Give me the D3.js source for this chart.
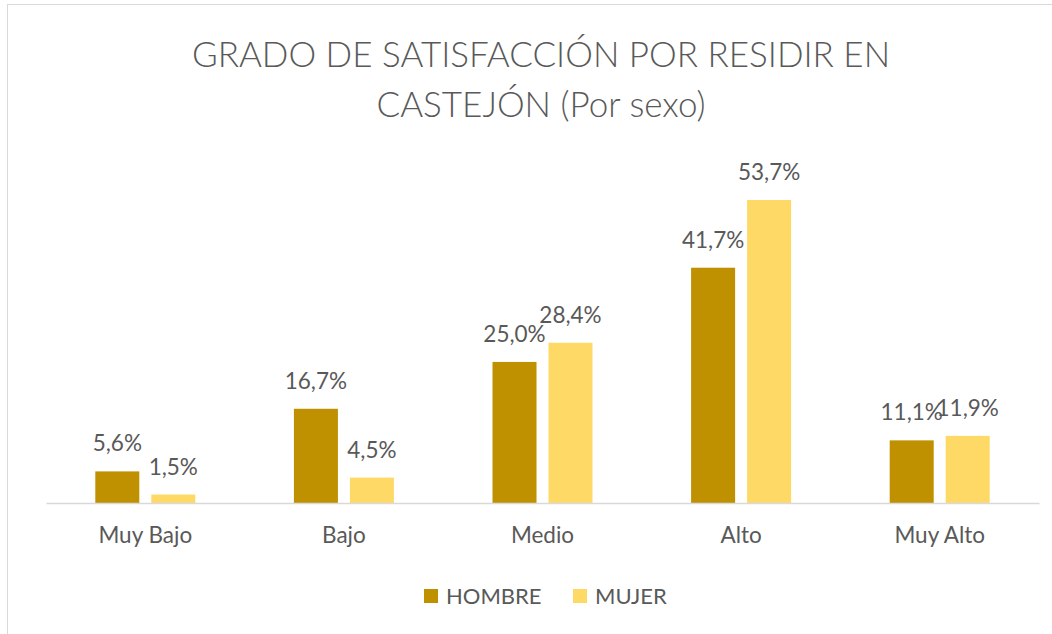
<!DOCTYPE html>
<html>
<head>
<meta charset="utf-8">
<script src="https://cdn.jsdelivr.net/npm/d3@7"></script>
<style>
  body { margin: 0; background: #fff; }
  svg text { font-family: Lato, "Open Sans", sans-serif; fill: #595959; }
</style>
</head>
<body>
<div id="chart"></div>
<script>
const width = 1052;
const height = 634;

const categories = ["Muy Bajo", "Bajo", "Medio", "Alto", "Muy Alto"];
const series = ["HOMBRE", "MUJER"];
const hombre = [5.6, 16.7, 25.0, 41.7, 11.1];
const mujer = [1.5, 4.5, 28.4, 53.7, 11.9];
const titleLines = ["GRADO DE SATISFACCIÓN POR RESIDIR EN", "CASTEJÓN (Por sexo)"];

const colors = { "HOMBRE": "#BF9000", "MUJER": "#FFD966" };

const data = categories.map((c, i) => ({ cat: c, HOMBRE: hombre[i], MUJER: mujer[i] }));

const svg = d3.select("#chart")
  .append("svg")
  .attr("width", width)
  .attr("height", height);

// chart frame
svg.append("rect")
  .attr("x", 7.5).attr("y", 4.5)
  .attr("width", width + 10).attr("height", height + 10)
  .attr("fill", "none")
  .attr("stroke", "#d9d9d9");

// title
svg.append("g")
  .selectAll("text")
  .data(titleLines)
  .enter()
  .append("text")
  .attr("x", 541)
  .attr("y", (d, i) => 67 + i * 50)
  .attr("text-anchor", "middle")
  .style("font-size", "35px")
  .style("font-weight", 300)
  .text(d => d);

const x0 = d3.scaleBand()
  .domain(categories)
  .range([46, 1039]);

const x1 = d3.scaleBand()
  .domain(series)
  .range([x0.bandwidth() / 2 - 50, x0.bandwidth() / 2 + 50])
  .paddingInner(0.214);

const yScale = d3.scaleLinear()
  .domain([0, 53.7])
  .range([503, 200]);

const groups = svg.append("g")
  .selectAll("g")
  .data(data)
  .enter()
  .append("g")
  .attr("transform", d => "translate(" + x0(d.cat) + ",0)");

groups.selectAll("rect")
  .data(d => series.map(s => ({ key: s, value: d[s] })))
  .enter()
  .append("rect")
  .attr("x", d => x1(d.key))
  .attr("y", d => yScale(d.value))
  .attr("width", x1.bandwidth())
  .attr("height", d => yScale(0) - yScale(d.value))
  .style("fill", d => colors[d.key]);

groups.selectAll("text.val")
  .data(d => series.map(s => ({ key: s, value: d[s] })))
  .enter()
  .append("text")
  .attr("class", "val")
  .attr("x", d => x1(d.key) + x1.bandwidth() / 2)
  .attr("y", d => yScale(d.value) - 20)
  .attr("text-anchor", "middle")
  .style("font-size", "22.5px")
  .text(d => d.value.toFixed(1).replace(".", ",") + "%");

// x axis
const xAxis = d3.axisBottom(x0).tickSize(0).tickPadding(24);
const gx = svg.append("g")
  .attr("transform", "translate(0,503)")
  .call(xAxis);
gx.select(".domain").attr("stroke", "#d9d9d9").attr("stroke-width", 1.5);
gx.selectAll("text")
  .style("font-size", "22.5px")
  .style("font-family", "Lato, 'Open Sans', sans-serif")
  .attr("fill", "#595959");

// legend
const legendX = [424, 573];
const legend = svg.append("g")
  .selectAll("g")
  .data(series)
  .enter()
  .append("g")
  .attr("transform", (d, i) => "translate(" + legendX[i] + ",589)");

legend.append("rect")
  .attr("width", 14)
  .attr("height", 14)
  .style("fill", d => colors[d]);

legend.append("text")
  .attr("x", 22)
  .attr("y", 15)
  .style("font-size", "22px")
  .text(d => d);
</script>
</body>
</html>
